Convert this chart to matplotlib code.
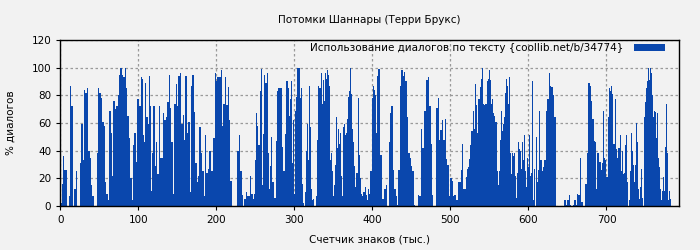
import matplotlib
matplotlib.use("Agg")
import matplotlib.pyplot as plt

# Share of dialogue per 1000 characters of text
dialog_pct = [
    # 0 - 100
    2, 2, 16, 34, 36, 26, 26, 52, 26, 0, 0, 7, 48, 87, 72, 72, 0, 0,
    12, 12, 25, 12, 0, 0, 0, 4, 31, 59, 59, 33, 62, 84, 82, 82, 85, 66,
    40, 40, 35, 12, 15, 7, 7, 0, 0, 0, 0, 38, 72, 85, 82, 82, 78, 100,
    61, 61, 58, 9, 17, 9, 9, 4, 38, 69, 69, 53, 20, 22, 76, 76, 70, 88,
    72, 72, 80, 95, 98, 100, 100, 95, 77, 93, 93, 100, 85, 91, 65, 65, 49, 45,
    20, 20, 4, 44, 81, 53, 53, 32, 70, 77, 77,
    # 100 - 200
    72, 72, 98, 93, 92, 51, 51, 46, 89, 64, 64, 98, 59, 94, 72, 72, 11, 38,
    72, 72, 40, 29, 46, 23, 23, 46, 72, 35, 35, 1, 35, 67, 62, 62, 67, 64,
    75, 75, 68, 95, 71, 46, 46, 21, 9, 74, 74, 87, 88, 72, 94, 94, 100, 96,
    59, 59, 54, 66, 48, 94, 94, 92, 53, 61, 61, 10, 40, 87, 95, 95, 98, 68,
    31, 31, 17, 26, 22, 57, 57, 38, 38, 25, 25, 7, 25, 51, 24, 24, 10, 27,
    40, 40, 25, 49, 25, 49, 49, 85, 96, 90, 93, 93, 93,
    # 200 - 300
    93, 93, 98, 58, 35, 74, 74, 93, 87, 73, 73, 86, 62, 20, 18, 18, 0, 0,
    0, 0, 0, 0, 15, 40, 40, 51, 18, 25, 25, 8, 0, 0, 5, 5, 10, 1,
    7, 7, 7, 22, 20, 9, 9, 5, 9, 33, 33, 67, 58, 83, 44, 44, 83, 99,
    15, 15, 52, 95, 84, 89, 89, 96, 38, 12, 12, 29, 50, 31, 17, 17, 6, 6,
    47, 47, 83, 85, 70, 85, 85, 85, 43, 25, 25, 25, 52, 93, 90, 90, 85, 65,
    77, 77, 90, 31, 62, 9, 9, 69, 79, 96, 100, 100, 100,
    # 300 - 400
    78, 78, 85, 16, 2, 0, 0, 10, 40, 59, 59, 33, 87, 57, 12, 12, 4, 5,
    0, 0, 0, 7, 48, 87, 87, 85, 85, 96, 96, 74, 91, 76, 96, 96, 92, 98,
    95, 95, 87, 33, 38, 25, 25, 7, 15, 30, 30, 64, 42, 56, 45, 45, 53, 22,
    7, 7, 57, 59, 51, 53, 53, 63, 79, 83, 83, 100, 81, 56, 46, 46, 29, 14,
    24, 24, 88, 78, 37, 20, 20, 9, 7, 10, 10, 12, 14, 8, 4, 4, 12, 9,
    25, 25, 79, 78, 87, 84, 84, 80, 53, 94, 99, 99, 99,
    # 400 - 500
    37, 37, 8, 5, 5, 12, 12, 34, 15, 0, 0, 4, 46, 67, 72, 72, 58, 26,
    12, 12, 7, 27, 1, 26, 26, 71, 87, 98, 98, 94, 80, 97, 90, 90, 97, 64,
    38, 38, 35, 34, 29, 25, 25, 5, 1, 0, 0, 0, 6, 8, 7, 7, 13, 56,
    42, 42, 69, 72, 69, 91, 91, 93, 81, 72, 72, 45, 7, 8, 0, 0, 0, 21,
    71, 71, 78, 65, 48, 55, 55, 62, 65, 48, 48, 63, 95, 34, 30, 30, 7, 24,
    20, 20, 18, 14, 7, 8, 8, 4, 7, 4, 17, 17, 17,
    # 500 - 600
    26, 26, 45, 12, 16, 12, 12, 21, 27, 28, 28, 34, 44, 36, 54, 54, 69, 56,
    88, 88, 73, 53, 73, 77, 77, 86, 92, 100, 100, 74, 73, 88, 74, 74, 90, 92,
    98, 98, 91, 74, 77, 67, 67, 65, 61, 61, 61, 25, 15, 25, 48, 48, 69, 54,
    59, 59, 64, 82, 92, 87, 87, 74, 93, 38, 38, 23, 38, 36, 38, 38, 22, 6,
    24, 24, 46, 41, 40, 27, 27, 46, 33, 51, 51, 25, 14, 35, 28, 28, 51, 22,
    24, 24, 90, 4, 27, 0, 0, 50, 17, 26, 69, 69,
    # 600 - 700
    33, 33, 25, 25, 28, 33, 33, 46, 69, 77, 77, 76, 96, 87, 86, 86, 92, 80,
    64, 64, 46, 0, 0, 0, 0, 0, 0, 0, 0, 0, 0, 4, 4, 1, 0,
    4, 4, 8, 1, 0, 0, 0, 1, 0, 4, 4, 1, 9, 15, 8, 8, 35, 30,
    3, 3, 0, 0, 0, 16, 16, 38, 57, 89, 89, 87, 76, 69, 63, 63, 47, 46,
    12, 12, 38, 38, 21, 32, 32, 26, 31, 69, 69, 35, 33, 11, 21, 21, 64, 85,
    83, 83, 87, 81, 91, 45, 45, 77, 41, 20, 35, 42, 42,
    # 700 - end
    51, 51, 25, 40, 23, 24, 24, 44, 51, 17, 17, 0, 4, 25, 53, 53, 40, 30,
    17, 17, 30, 60, 46, 12, 12, 5, 14, 27, 27, 6, 0, 64, 75, 75, 85, 90,
    100, 100, 91, 100, 96, 80, 80, 64, 69, 68, 68, 49, 67, 35, 28, 28, 12, 4,
    11, 11, 21, 11, 43, 74, 74, 38, 4, 11, 11, 5,
]
char_count = list(range(len(dialog_pct)))

title = "Потомки Шаннары (Терри Брукс)"
legend_label = "Использование диалогов по тексту {coollib.net/b/34774}"
bar_color = "#0a47ad"
bg = "#f2f2f2"

fig = plt.figure(figsize=(7, 2.5), dpi=100, facecolor=bg)
ax = fig.add_axes([0.086, 0.176, 0.884, 0.664], facecolor=bg)

ax.bar(char_count, dialog_pct, width=1.0, align="edge", color=bar_color,
       linewidth=0, label=legend_label, zorder=2)

ax.set_xlim(0, 793)
ax.set_ylim(0, 120)
ax.set_xticks(range(0, 800, 100))
ax.set_yticks(range(0, 121, 20))
ax.grid(True, color="#9a9a9a", linestyle=(0, (2, 2)), linewidth=0.9, zorder=0)
ax.set_axisbelow(True)
ax.tick_params(labelsize=7.5, length=3, width=0.8)
for s in ax.spines.values():
    s.set_linewidth(1.0)

ax.set_title(title, fontsize=7.5, pad=12)
ax.set_xlabel("Счетчик знаков (тыс.)", fontsize=7.5, labelpad=7)
ax.set_ylabel("% диалогов", fontsize=7.5, labelpad=11)

# legend: text first, colour patch on the right
ax.legend(loc="upper right", bbox_to_anchor=(0.979, 0.986), fontsize=7.5,
          frameon=False, markerfirst=False, handlelength=3.0,
          handleheight=0.6, borderaxespad=0, borderpad=0.1,
          handletextpad=0.95)

fig.savefig("out.png", dpi=100, facecolor=bg)
